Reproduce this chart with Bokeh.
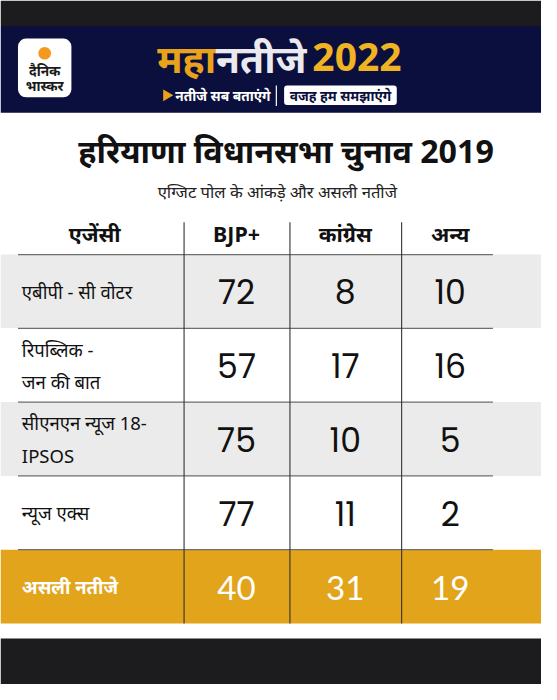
from bokeh.plotting import figure
from bokeh.models import Range1d
from bokeh.core.properties import value
from bokeh.embed import file_html
from bokeh.resources import INLINE

# ---- data ----
brand_line1 = "दैनिक"
brand_line2 = "भास्कर"
banner_parts = ["महा", "नतीजे", "2022"]
tagline_left = "नतीजे सब बताएंगे"
tagline_right = "वजह हम समझाएंगे"
title = "हरियाणा विधानसभा चुनाव 2019"
subtitle = "एग्जिट पोल के आंकड़े और असली नतीजे"
columns = ["एजेंसी", "BJP+", "कांग्रेस", "अन्य"]
agencies = ["एबीपी - सी वोटर", "रिपब्लिक -\nजन की बात", "सीएनएन न्यूज 18-\nIPSOS", "न्यूज एक्स"]
bjp = [72, 57, 75, 77]
congress = [8, 17, 10, 11]
others = [10, 16, 5, 2]
actual_label = "असली नतीजे"
actual = [40, 31, 19]

# ---- layout ----
W, H = 541, 684
S = 0.975
FONT = "Noto Sans"


def fs(px):
    return value(f"{px * S:.1f}px")


p = figure(width=W, height=H, x_range=Range1d(0, 557), y_range=Range1d(700, 0),
           output_backend="svg", toolbar_location=None, min_border=0)
p.axis.visible = False
p.grid.visible = False
p.outline_line_color = None
p.background_fill_color = "white"
p.border_fill_color = "white"

# dark bands
p.quad(left=[0, 0], right=[557, 557], top=[0, 653], bottom=[26, 700],
       fill_color="#1c1c1e", line_color=None)
# navy banner
p.quad(left=[0], right=[557], top=[26], bottom=[115], fill_color="#0b0f3d", line_color=None)

# logo
p.quad(left=[18], right=[73], top=[39], bottom=[99], fill_color="white", line_color=None,
       border_radius=8)
p.scatter(x=[45.5], y=[54], size=13 * S, marker="circle", fill_color="#f39a1e", line_color=None)
p.text(x=[45.5, 45.5], y=[72, 87], text=[brand_line1, brand_line2], text_font=value(FONT),
       text_font_size=fs(14), text_font_style="bold", text_align="center",
       text_baseline="middle", text_color="#1a1a1a")

# banner title
p.text(x=[222], y=[58], text=[banner_parts[0]], text_font=value(FONT), text_font_size=fs(40),
       text_font_style="bold", text_align="right", text_baseline="middle", text_color="#e8a21c")
p.text(x=[222], y=[58], text=[banner_parts[1]], text_font=value(FONT), text_font_size=fs(40),
       text_font_style="bold", text_align="left", text_baseline="middle", text_color="#e9e9ee")
p.text(x=[367], y=[58], text=[banner_parts[2]], text_font=value(FONT), text_font_size=fs(40),
       text_font_style="bold", text_align="center", text_baseline="middle", text_color="#f0b323")

# tagline
p.scatter(x=[171], y=[97], size=12 * S, marker="triangle", angle=-1.5708,
          fill_color="#e8a21c", line_color=None)
p.text(x=[229], y=[97], text=[tagline_left], text_font=value(FONT), text_font_size=fs(14),
       text_font_style="bold", text_align="center", text_baseline="middle", text_color="white")
p.segment(x0=[284], y0=[87], x1=[284], y1=[108], line_color="white", line_width=1.2)
p.quad(left=[292], right=[408], top=[87], bottom=[107], fill_color="white", line_color=None,
       border_radius=3)
p.text(x=[350], y=[97], text=[tagline_right], text_font=value(FONT), text_font_size=fs(14),
       text_font_style="bold", text_align="center", text_baseline="middle", text_color="#0b0f3d")

# title + subtitle
p.text(x=[294], y=[153], text=[title], text_font=value(FONT), text_font_size=fs(33),
       text_font_style="bold", text_align="center", text_baseline="middle", text_color="#111111")
p.text(x=[285], y=[195], text=[subtitle], text_font=value(FONT), text_font_size=fs(17),
       text_align="center", text_baseline="middle", text_color="#222222")

# table geometry
top0 = 260
rh = 75.5
n = len(agencies) + 1
col_cx = [22, 243, 355, 463]
seps = [189, 298, 413]
header_y = 238

row_tops = [top0 + i * rh for i in range(n)]
fills = ["#ebebeb" if (i % 2 == 0) else "white" for i in range(n - 1)] + ["#e2a41a"]
p.quad(left=[0] * n, right=[557] * n, top=row_tops, bottom=[t + rh for t in row_tops],
       fill_color=fills, line_color=None)

# horizontal lines
p.segment(x0=[18] * n, y0=row_tops, x1=[507] * n, y1=row_tops, line_color="#6e6e6e",
          line_width=1.3)
# vertical lines
p.segment(x0=seps, y0=[227] * 3, x1=seps, y1=[top0 + n * rh] * 3, line_color="#333333",
          line_width=1.1)

# header
p.text(x=[97] + col_cx[1:], y=[header_y] * 4, text=columns, text_font=value(FONT),
       text_font_size=fs(22), text_font_style="bold", text_align="center",
       text_baseline="middle", text_color="#111111")

# agency labels
lx, ly, lt = [], [], []
for i, a in enumerate(agencies):
    cy = row_tops[i] + rh / 2
    lines = a.split("\n")
    k = len(lines)
    for j, ln in enumerate(lines):
        lx.append(col_cx[0])
        ly.append(cy + (j - (k - 1) / 2) * 33)
        lt.append(ln)
p.text(x=lx, y=ly, text=lt, text_font=value(FONT), text_font_size=fs(19),
       text_align="left", text_baseline="middle", text_color="#111111")

# numbers
nx, ny, nt = [], [], []
for i in range(len(agencies)):
    cy = row_tops[i] + rh / 2
    for c, vals in enumerate([bjp, congress, others]):
        nx.append(col_cx[c + 1])
        ny.append(cy + 1)
        nt.append(str(vals[i]))
p.text(x=nx, y=ny, text=nt, text_font=value("Poppins, Lato"), text_font_size=fs(34),
       text_align="center", text_baseline="middle", text_color="#111111")

# actual results row
cy = row_tops[-1] + rh / 2
p.text(x=[col_cx[0]], y=[cy], text=[actual_label], text_font=value(FONT),
       text_font_size=fs(19), text_font_style="bold", text_align="left",
       text_baseline="middle", text_color="white")
p.text(x=col_cx[1:], y=[cy + 1] * 3, text=[str(v) for v in actual], text_font=value("Lato"),
       text_font_size=fs(34), text_align="center", text_baseline="middle", text_color="white")

open("out.html", "w").write(file_html(p, INLINE))
